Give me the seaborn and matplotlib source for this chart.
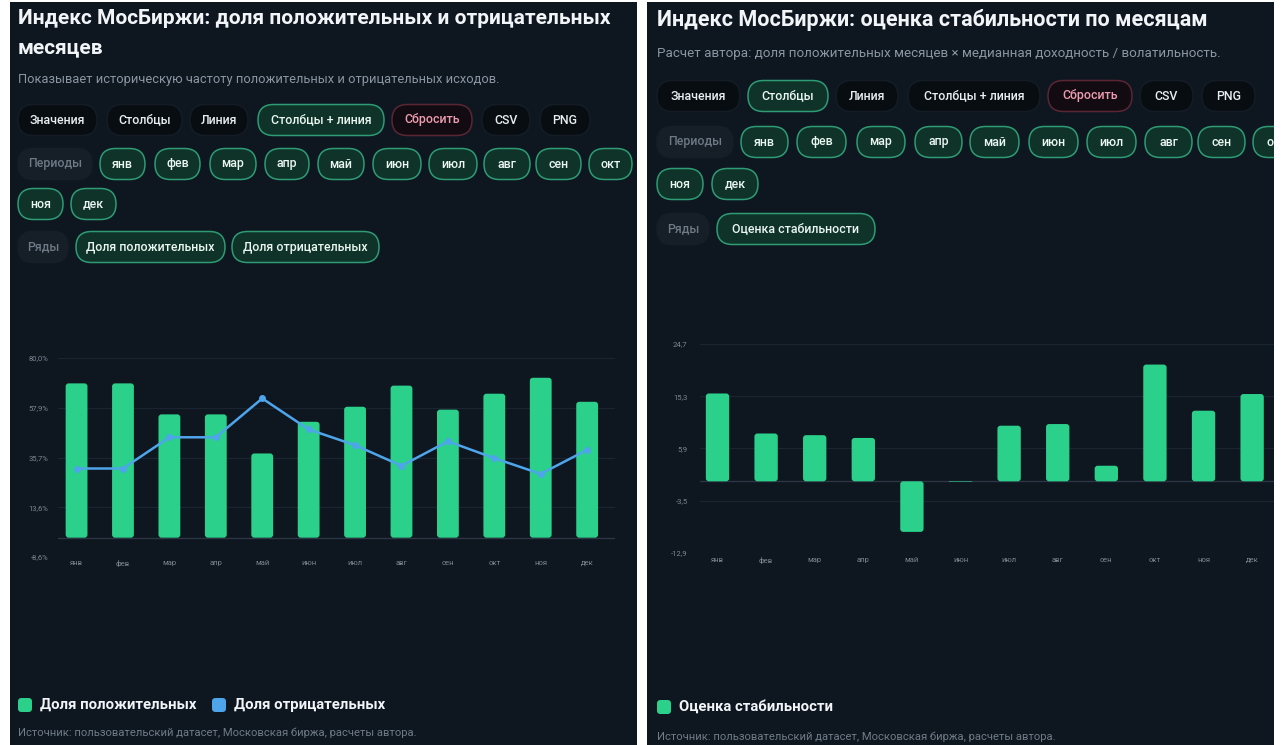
import matplotlib
matplotlib.use("Agg")
import numpy as np
import pandas as pd
import matplotlib.pyplot as plt
from matplotlib.patches import FancyBboxPatch, Rectangle
import seaborn as sns

# Data
months = ["янв", "фев", "мар", "апр", "май", "июн", "июл", "авг", "сен", "окт", "ноя", "дек"]
share_pos = [68.7, 68.7, 54.9, 54.9, 37.5, 51.6, 58.3, 67.7, 57.0, 64.1, 71.2, 60.5]
share_neg = [30.8, 30.8, 44.7, 44.7, 62.0, 48.2, 41.2, 32.0, 42.9, 35.4, 28.4, 39.1]
stability = [15.8, 8.6, 8.3, 7.8, -9.1, -0.1, 10.0, 10.3, 2.8, 21.0, 12.7, 15.7]

left_yticks = [-8.6, 13.55, 35.7, 57.85, 80.0]
left_ylabels = ["-8,6%", "13,6%", "35,7%", "57,9%", "80,0%"]
right_yticks = [-12.9, -3.5, 5.9, 15.3, 24.7]
right_ylabels = ["-12,9", "-3,5", "5,9", "15,3", "24,7"]

# Colours
BG = "#0e1620"
GREEN = "#2bd18b"
BLUE = "#4ea5ea"
GRID = "#1b2530"
ZERO = "#2b3743"
TICK = "#7c8792"
MUTED = "#8a96a2"

sns.set_theme(style="dark")
plt.rcParams["font.family"] = ["Roboto", "DejaVu Sans"]

W, H = 1284, 745
fig = plt.figure(figsize=(W / 100, H / 100), dpi=100, facecolor="white")


def panel(x0, x1):
    r = Rectangle((x0 / 100, 0), (x1 - x0) / 100, (H - 2) / 100,
                  transform=fig.dpi_scale_trans, fc=BG, ec="none", zorder=-5)
    fig.add_artist(r)
    return r


def text(x, y, s, clip=None, **kw):
    t = fig.text(x / W, 1 - y / H, s, va="center", **kw)
    if clip is not None:
        t.set_clip_path(clip)
    return t


STYLES = {
    "dark": ("#080d12", "#141c25", "#e9eef3"),
    "on": ("#0f3329", "#2e9b74", "#eaf6f0"),
    "reset": ("#120c12", "#5b2634", "#f09cb0"),
    "label": ("#161e28", "#161e28", "#6d7985"),
}


def button(label, x0, x1, yc, kind, clip=None, h=31):
    fc, ec, tc = STYLES[kind]
    p = FancyBboxPatch((x0 / 100, (H - yc - h / 2) / 100), (x1 - x0) / 100, h / 100,
                       boxstyle=f"round,pad=0,rounding_size={h / 200}",
                       transform=fig.dpi_scale_trans, fc=fc, ec=ec, lw=1.1)
    fig.add_artist(p)
    if clip is not None:
        p.set_clip_path(clip)
    text((x0 + x1) / 2, yc, label, clip=clip, ha="center", color=tc,
         fontsize=8.9, fontweight="medium")


def swatch(x0, yc, color, s=14):
    p = FancyBboxPatch((x0 / 100, (H - yc - s / 2) / 100), s / 100, s / 100,
                       boxstyle="round,pad=0,rounding_size=0.035",
                       transform=fig.dpi_scale_trans, fc=color, ec="none")
    fig.add_artist(p)


def round_bars(ax, r_px=3):
    bb = ax.get_position()
    x0, x1 = ax.get_xlim()
    y0, y1 = ax.get_ylim()
    sx = bb.width * W / (x1 - x0)
    sy = bb.height * H / (y1 - y0)
    for p in list(ax.patches):
        x, y, w, h = p.get_x(), p.get_y(), p.get_width(), p.get_height()
        if h < 0:
            y, h = y + h, -h
        r = max(min(r_px, w * sx / 2, h * sy / 2), 0.01)
        new = FancyBboxPatch((x, y), w, h, boxstyle=f"round,pad=0,rounding_size={r / sx}",
                             mutation_aspect=sx / sy, fc=p.get_facecolor(), ec="none",
                             zorder=p.get_zorder())
        p.remove()
        ax.add_patch(new)


def style_axes(ax, yticks, ylabels, xpad, ypad):
    ax.set_facecolor("none")
    for s in ax.spines.values():
        s.set_visible(False)
    ax.set_yticks(yticks)
    ax.set_yticklabels(ylabels)
    ax.yaxis.grid(True, color=GRID, lw=0.9)
    ax.xaxis.grid(False)
    ax.set_axisbelow(True)
    ax.tick_params(axis="both", length=0, labelsize=5.5, colors=TICK)
    ax.tick_params(axis="x", pad=xpad)
    ax.tick_params(axis="y", pad=ypad)
    ax.set_xlabel("")
    ax.set_ylabel("")


# Panels
left_panel = panel(10, 637)
right_panel = panel(647, 1274)

# ---------------- Left panel ----------------
text(18, 18, "Индекс МосБиржи: доля положительных и отрицательных", color="#f2f5f8",
     fontsize=15, fontweight="bold")
text(18, 48, "месяцев", color="#f2f5f8", fontsize=15, fontweight="bold")
text(18, 79, "Показывает историческую частоту положительных и отрицательных исходов.",
     color=MUTED, fontsize=9.3)

for lab, a, b, k in [("Значения", 18, 97, "dark"), ("Столбцы", 107, 182, "dark"),
                     ("Линия", 190, 248, "dark"), ("Столбцы + линия", 258, 384, "on"),
                     ("Сбросить", 392, 472, "reset"), ("CSV", 482, 530, "dark"),
                     ("PNG", 540, 590, "dark")]:
    button(lab, a, b, 120, k)

button("Периоды", 18, 92, 164, "label")
for lab, a, b in zip(months[:10], [100, 155, 210, 265, 318, 373, 429, 484, 536, 589],
                     [145, 200, 256, 309, 364, 421, 477, 530, 581, 632]):
    button(lab, a, b, 164, "on")
button(months[10], 18, 63, 204, "on")
button(months[11], 71, 116, 204, "on")
button("Ряды", 18, 68, 247, "label")
button("Доля положительных", 76, 225, 247, "on")
button("Доля отрицательных", 232, 379, 247, "on")

ax1 = fig.add_axes([58 / W, 1 - 557 / H, 557 / W, 199 / H])
sns.barplot(x=months, y=share_pos, ax=ax1, color=GREEN, width=0.47, saturation=1,
            linewidth=0, zorder=2)
ax1.set_xlim(-0.4, 11.6)
ax1.set_ylim(-8.6, 80.0)
ax1.axhline(0, color=ZERO, lw=1.0, zorder=1)
round_bars(ax1, 3)
sns.lineplot(x=months, y=share_neg, ax=ax1, color=BLUE, marker="o", markersize=5,
             markeredgewidth=0, linewidth=1.8, sort=False, zorder=3)
style_axes(ax1, left_yticks, left_ylabels, 2, 7)
ax1.set_xlim(-0.4, 11.6)
ax1.set_ylim(-8.6, 80.0)

swatch(18, 705, GREEN)
text(40, 705, "Доля положительных", color="#f2f5f8", fontsize=10.7, fontweight="bold")
swatch(212, 705, BLUE)
text(234, 705, "Доля отрицательных", color="#f2f5f8", fontsize=10.7, fontweight="bold")
text(18, 733, "Источник: пользовательский датасет, Московская биржа, расчеты автора.",
     color="#6f7b87", fontsize=8.1)

# ---------------- Right panel ----------------
text(657, 20, "Индекс МосБиржи: оценка стабильности по месяцам", color="#f2f5f8",
     fontsize=15.5, fontweight="bold")
text(657, 53, "Расчет автора: доля положительных месяцев × медианная доходность / волатильность.",
     color=MUTED, fontsize=9.6)

for lab, a, b, k in [("Значения", 657, 740, "dark"), ("Столбцы", 748, 828, "on"),
                     ("Линия", 836, 898, "dark"), ("Столбцы + линия", 908, 1040, "dark"),
                     ("Сбросить", 1048, 1132, "reset"), ("CSV", 1140, 1193, "dark"),
                     ("PNG", 1202, 1255, "dark")]:
    button(lab, a, b, 96, k)

button("Периоды", 657, 733, 142, "label")
for lab, a, b in zip(months[:10], [741, 797, 857, 915, 970, 1029, 1087, 1145, 1198, 1253],
                     [788, 846, 905, 962, 1019, 1078, 1136, 1192, 1245, 1300]):
    button(lab, a, b, 142, "on", clip=right_panel)
button(months[10], 657, 703, 184, "on")
button(months[11], 712, 758, 184, "on")
button("Ряды", 657, 709, 229, "label")
button("Оценка стабильности", 717, 875, 229, "on")

ax2 = fig.add_axes([700 / W, 1 - 553 / H, 574 / W, 209 / H])
sns.barplot(x=months, y=stability, ax=ax2, color=GREEN, width=0.48, saturation=1,
            linewidth=0, zorder=2)
ax2.set_xlim(-0.36, 11.45)
ax2.set_ylim(-12.9, 24.7)
ax2.axhline(0, color=ZERO, lw=1.0, zorder=1)
round_bars(ax2, 3)
style_axes(ax2, right_yticks, right_ylabels, 3, 9)
ax2.set_xlim(-0.36, 11.45)
ax2.set_ylim(-12.9, 24.7)

swatch(657, 707, GREEN)
text(679, 707, "Оценка стабильности", color="#f2f5f8", fontsize=10.7, fontweight="bold")
text(657, 737, "Источник: пользовательский датасет, Московская биржа, расчеты автора.",
     color="#6f7b87", fontsize=8.1)

fig.savefig("out.png", dpi=100, facecolor="white")
